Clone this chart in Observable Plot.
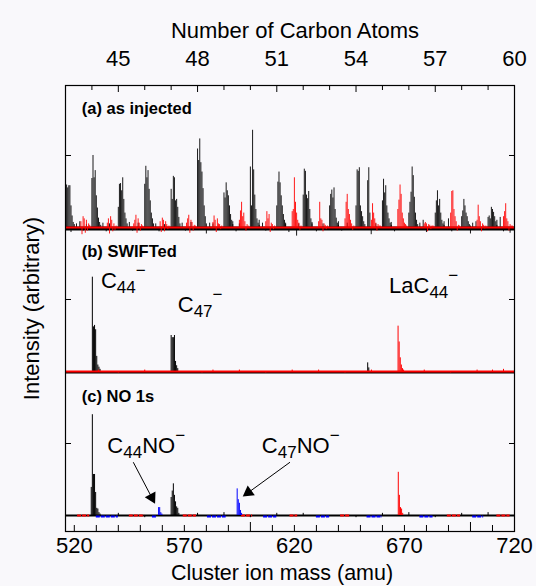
<!DOCTYPE html>
<html><head><meta charset="utf-8">
<script src="https://cdn.jsdelivr.net/npm/d3@7"></script>
<script src="https://cdn.jsdelivr.net/npm/@observablehq/plot@0.6"></script>
<style>
html,body{margin:0;padding:0;background:#f9f8fb;}
</style></head><body><div id="chart"></div>
<script>
// ================= DATA =================
// isotope-line offsets (amu) inside each cluster
const isoOffsets = [0, 0.5, 1, 1.5, 2, 2.5, 3, 3.5, 4];

// (a) as injected — C_n^- clusters (black)
const clusterMassA = [516,528,540,552,564,576,588,600,612,624,636,648,660,672,684,696,708];
const clusterHeightsA = [
  [0.28,0.59,0.55,0.58,0.58,0.30,0.16,0.07,0.04],
  [0.68,1.00,0.69,0.79,0.44,0.27,0.13,0.07,0.03],
  [0.28,0.60,0.61,0.51,0.69,0.39,0.20,0.12,0.05],
  [0.60,0.85,0.69,0.79,0.53,0.37,0.20,0.12,0.05],
  [0.53,0.39,0.71,0.69,0.37,0.39,0.28,0.14,0.05],
  [1.09,0.93,1.23,0.90,0.77,0.54,0.30,0.15,0.05],
  [0.48,0.41,0.62,0.51,0.44,0.30,0.18,0.10,0.04],
  [0.84,0.30,1.35,0.80,0.45,0.25,0.12,0.06,0.03],
  [0.30,0.63,0.77,0.62,0.44,0.30,0.18,0.10,0.04],
  [0.45,0.81,0.78,0.45,0.40,0.50,0.25,0.12,0.05],
  [0.30,0.46,0.52,0.41,0.55,0.25,0.13,0.06,0.03],
  [0.30,0.80,0.78,0.83,0.30,0.22,0.15,0.08,0.04],
  [0.37,0.67,0.48,0.58,0.30,0.20,0.12,0.06,0.03],
  [0.20,0.35,0.49,0.84,0.72,0.42,0.20,0.10,0.04],
  [0.20,0.37,0.51,0.30,0.39,0.20,0.10,0.05,0.03],
  [0.15,0.23,0.39,0.30,0.20,0.15,0.08,0.04,0.02],
  [0.14,0.16,0.12,0.28,0.25,0.21,0.15,0.08,0.03]
];
// (a) extra black lines and baseline noise [mass, intensity]
const blackNoiseA = [
  [518.5,-0.07],[521,0.05],[522.5,0.08],[524,-0.05],[525.5,0.04],[533,0.06],[534.5,-0.06],[536,0.05],
  [545,0.07],[546.5,-0.05],[549,0.06],[557,0.05],[558.5,-0.06],[561,0.04],[569,0.06],[570.5,-0.05],
  [573,0.07],[580,-0.09],[581.5,0.06],[583,0.05],[592,0.08],[593.5,-0.06],[595,0.05],[604,0.10],
  [605.5,0.06],[607,-0.05],[616,0.06],[617.5,-0.07],[621,-0.12],[622,0.05],[628,0.07],[630,-0.06],
  [633,0.05],[640,0.08],[641.5,-0.05],[644,0.06],[653.3,0.65],[653.8,0.83],[654.3,0.20],[654.9,-0.10],
  [657,0.05],[664,0.07],[665.5,-0.06],[677,0.06],[678.5,0.10],[680,-0.07],[688,0.08],[690,0.12],
  [691.5,-0.06],[700,-0.09],[701,0.06],[702.5,0.08],[712,0.10],[713.5,0.14],[715,-0.06],[718,-0.08]
];
// (a) LaC_n^- clusters (red)
const laMassA = [523,535,547,559,571,583,595,607,619,631,643,655,667,679,691,703,715];
const laHeightsA = [
  [0.08,-0.10,0.15,0.12,-0.08,0.10,-0.05,0.05,0.03],
  [0.06,0.12,-0.09,0.15,0.10,-0.06,0.05,-0.04,0.02],
  [0.05,0.10,0.17,-0.08,0.12,0.06,-0.05,0.04,0.02],
  [0.08,-0.07,0.13,0.10,-0.06,0.08,0.04,-0.03,0.02],
  [0.06,0.12,0.17,-0.08,0.10,0.07,-0.05,0.03,0.02],
  [0.07,0.16,0.10,-0.07,0.12,0.05,0.04,-0.03,0.02],
  [0.10,0.23,0.35,0.15,0.20,0.08,-0.05,0.04,0.02],
  [0.08,0.22,0.12,0.18,-0.07,0.06,0.04,-0.03,0.02],
  [0.22,0.25,0.69,0.35,0.20,0.10,0.06,-0.04,0.02],
  [0.08,0.35,0.12,0.10,-0.06,0.05,0.03,-0.03,0.02],
  [0.12,0.35,0.46,0.25,0.18,0.10,0.05,-0.04,0.02],
  [0.10,0.33,0.20,0.12,0.06,-0.05,0.04,0.02,0.02],
  [0.25,0.38,0.59,0.46,0.20,0.12,0.06,0.04,0.02],
  [0.05,0.07,0.05,-0.06,0.04,0.03,-0.03,0.02,0.02],
  [0.20,0.50,0.51,0.25,0.15,0.08,-0.05,0.03,0.02],
  [0.10,0.31,0.15,0.08,-0.06,0.05,0.03,-0.02,0.02],
  [0.15,0.22,0.33,0.12,0.08,-0.05,0.04,0.02,0.02]
];

// (b) SWIFTed
const blackMassB = [528.2,528.7,529.2,529.7,530.2,530.7,531.2,531.7, 564.0,564.5,565.0,565.5,566.0,566.5,567.0, 653.3,653.8];
const blackIntB  = [1.31,0.62,0.64,0.58,0.21,0.09,0.06,0.03, 0.50,0.47,0.47,0.50,0.14,0.08,0.04, 0.12,0.05];
const redMassB = [667.1,667.6,668.1,668.6,669.1,669.6];
const redIntB  = [0.63,0.41,0.19,0.09,0.04,0.02];
const redNoiseB = [[531,0.02],[540,-0.02],[552,0.02],[578,-0.02],[583,0.02],[595,0.02],[607,-0.02],[619,0.02],
  [631,0.02],[643,-0.02],[655,0.02],[679,0.02],[691,-0.02],[703,0.02],[710,0.02],[715,0.03]];

// (c) NO 1s
const blackMassC = [527.7,528.2,528.7,529.2,529.7,530.2,530.7,531.2,531.7, 564.0,564.5,565.0,565.5,566.0,566.5,567.0,567.5];
const blackIntC  = [0.39,1.40,0.57,0.57,0.32,0.10,0.09,0.04,0.02, 0.25,0.34,0.44,0.28,0.19,0.12,0.10,0.03];
const blueMassC = [558.3,558.8,559.3,559.8, 594.0,594.5,595.0,595.5,596.0];
const blueIntC  = [0.11,0.11,0.04,0.02, 0.37,0.22,0.17,0.07,0.03];
const redMassC = [667.2,667.7,668.2,668.7,669.2];
const redIntC  = [0.60,0.28,0.11,0.09,0.03];
const blackNoiseC = [[540,0.03],[552,-0.03],[576,0.03],[588,0.04],[600,-0.03],[612,0.03],[624,0.03],
  [648,-0.03],[660,0.03],[672,0.04],[684,-0.03],[696,0.03],[708,0.04]];
const redSegC  = [[521.5,527],[545,552],[569.5,575.5],[596,601],[618,621.5],[641,645.5],[689.5,695.5],[712,718]];
const blueSegC = [[530,540],[555.5,557.5],[580.5,589],[606,612],[630,636],[653,660],[677,683],[701,706]];

// text
const panelLabels = ["(a) as injected", "(b) SWIFTed", "(c) NO 1s"];
const bottomTickLabels = [520,570,620,670,720];
const bottomMinorTicks = [520,530,540,550,560,570,580,590,610,620,630,640,650,660,670,680,690,710];
const bottomMajorTicks = [600,700];
const topTickLabels = [45,48,51,54,57,60];
const topMinorCarbons = [44,46,47,49,50,52,53,55,56,58,59];
const ionLabelParts = [
  [["C",""],["44","sub"],["\u2212","sup"]],
  [["C",""],["47","sub"],["\u2212","sup"]],
  [["La",""],["C",""],["44","sub"],["\u2212","sup"]],
  [["C",""],["44","sub"],["NO",""],["\u2212","sup"]],
  [["C",""],["47","sub"],["NO",""],["\u2212","sup"]]
];

// ================= LAYOUT =================
const BASE = {a: 4, b: 2, c: 0};   // vertical offset of each panel (y units)
const panelLabelPos = [[523.4, 5.65], [523.4, 3.66], [523.4, 1.65]];
const ionLabelPos = [[532.1, 3.26], [567.0, 2.92], [663.0, 3.19], [535.0, 0.97], [605.2, 0.97]];
const arrows = [
  {x1: 546.8, y1: 0.74, x2: 555.2, y2: 0.25, rot: 152},
  {x1: 618.0, y1: 0.74, x2: 599.1, y2: 0.32, rot: 234}
];

// ================= BUILD =================
const rowsFromClusters = (masses, heights, base) =>
  masses.flatMap((m, i) => isoOffsets.map((o, j) => ({mass: m + o, v: heights[i][j], base})));
const rowsFromPairs = (masses, ints, base) => masses.map((m, i) => ({mass: m, v: ints[i], base}));
const rowsFromNoise = (list, base) => list.map(([m, v]) => ({mass: m, v, base}));

const aBlack = rowsFromClusters(clusterMassA, clusterHeightsA, BASE.a);
const aBlackNoise = rowsFromNoise(blackNoiseA, BASE.a);
const aRed = rowsFromClusters(laMassA, laHeightsA, BASE.a);
const bBlack = rowsFromPairs(blackMassB, blackIntB, BASE.b);
const bRed = rowsFromPairs(redMassB, redIntB, BASE.b);
const bRedNoise = rowsFromNoise(redNoiseB, BASE.b);
const cBlack = rowsFromPairs(blackMassC, blackIntC, BASE.c);
const cBlackNoise = rowsFromNoise(blackNoiseC, BASE.c);
const cBlue = rowsFromPairs(blueMassC, blueIntC, BASE.c);
const cRed = rowsFromPairs(redMassC, redIntC, BASE.c);

const spikes = (rows, color, w = 1) => Plot.ruleX(rows, {
  x: "mass", y1: d => d.base, y2: d => d.base + d.v, stroke: color, strokeWidth: w, clip: true
});

const panelLabelRows = panelLabels.map((t, i) => ({t, x: panelLabelPos[i][0], y: panelLabelPos[i][1]}));
const ionRows = ionLabelParts.map((p, i) => ({parts: p, x: ionLabelPos[i][0], y: ionLabelPos[i][1]}));

const FONT = "'Liberation Sans', Arial, Helvetica, sans-serif";

const chart = Plot.plot({
  width: 536, height: 586,
  marginLeft: 65, marginRight: 22, marginTop: 85, marginBottom: 55,
  x: {domain: [516, 720]},
  y: {domain: [-0.222, 5.972]},
  style: {background: "#f9f8fb", fontFamily: FONT, color: "black", overflow: "visible"},
  marks: [
    // ---- panel (a)
    Plot.ruleY([BASE.a], {stroke: "black", strokeWidth: 4, dy: 1}),
    spikes(aBlackNoise, "black", 0.9),
    spikes(aBlack, "black", 0.9),
    Plot.ruleY([BASE.a], {stroke: "#ff0000", strokeWidth: 2}),
    spikes(aRed, "#ff0000", 0.9),
    // ---- panel (b)
    Plot.ruleY([BASE.b], {stroke: "black", strokeWidth: 2, dy: 1}),
    spikes(bBlack, "black"),
    Plot.ruleY([BASE.b], {stroke: "#ff0000", strokeWidth: 2}),
    spikes(bRedNoise, "#ff0000"),
    spikes(bRed, "#ff0000"),
    // ---- panel (c)
    Plot.ruleY([BASE.c], {stroke: "black", strokeWidth: 2}),
    Plot.ruleY(redSegC, {y: () => BASE.c, x1: d => d[0], x2: d => d[1], stroke: "#ff0000", strokeWidth: 2, strokeDasharray: "4,1", clip: true}),
    Plot.ruleY(blueSegC, {y: () => BASE.c, x1: d => d[0], x2: d => d[1], stroke: "#0000ff", strokeWidth: 2, strokeDasharray: "4,1", dy: 1, clip: true}),
    spikes(cBlackNoise, "black"),
    spikes(cBlack, "black"),
    spikes(cBlue, "#0000ff"),
    spikes(cRed, "#ff0000"),
    // ---- annotations
    Plot.text(panelLabelRows, {x: "x", y: "y", text: "t", textAnchor: "start", fontSize: 16.5, fontWeight: "bold", fill: "black"}),
    Plot.text(ionRows, {x: "x", y: "y", text: d => d.parts.map(p => p[0]).join(""), textAnchor: "start", fontSize: 22, fill: "black", className: "ion-label"}),
    Plot.link(arrows, {x1: "x1", y1: "y1", x2: "x2", y2: "y2", stroke: "black", strokeWidth: 1}),
    Plot.dot(arrows, {x: "x2", y: "y2", symbol: "triangle", r: 4.5, fill: "black", stroke: "none", rotate: "rot"}),
    // ---- axis titles
    Plot.text(["Number of Carbon Atoms"], {text: d => d, frameAnchor: "top", lineAnchor: "middle", textAnchor: "middle", dy: -55, dx: 5, fontSize: 22}),
    Plot.text(["Cluster ion mass (amu)"], {text: d => d, frameAnchor: "bottom", lineAnchor: "bottom", textAnchor: "middle", dy: 48, dx: -8, fontSize: 21.5}),
    Plot.text(["Intensity (arbitrary)"], {text: d => d, frameAnchor: "left", lineAnchor: "middle", textAnchor: "middle", rotate: -90, dx: -34, dy: 0, fontSize: 22}),
    // ---- axes
    Plot.axisX({anchor: "bottom", ticks: bottomTickLabels, tickSize: 0, tickPadding: 6, fontSize: 22, label: null}),
    Plot.axisX({anchor: "bottom", ticks: bottomMinorTicks, tickSize: 6, dy: -6, fill: "none", label: null}),
    Plot.axisX({anchor: "bottom", ticks: bottomMajorTicks, tickSize: 9, dy: -9, fill: "none", label: null}),
    Plot.axisX({anchor: "top", ticks: topTickLabels.map(c => c * 12), tickFormat: m => String(m / 12), tickSize: 0, tickPadding: 20, fontSize: 22, label: null}),
    Plot.axisX({anchor: "top", ticks: topTickLabels.map(c => c * 12), tickSize: 6, dy: 6, fill: "none", label: null}),
    Plot.axisX({anchor: "top", ticks: topMinorCarbons.map(c => c * 12), tickSize: 4, dy: 4, fill: "none", label: null}),
    Plot.axisY({anchor: "left", ticks: [1, 3, 5], tickSize: 6, dx: 6, fill: "none", label: null}),
    Plot.axisY({anchor: "right", ticks: [1, 3, 5], tickSize: 6, dx: -6, fill: "none", label: null}),
    Plot.frame({stroke: "black", strokeWidth: 1.2})
  ]
});

// rich text (subscripts / superscripts) for ion labels
const offs = {"": 0, sub: 5, sup: -12};
d3.select(chart).selectAll("g.ion-label text").each(function(_, i) {
  const parts = ionRows[i].parts;
  const t = d3.select(this);
  t.text(null);
  let state = "";
  for (const [s, kind] of parts) {
    const ts = t.append("tspan").text(s);
    const dy = offs[kind] - offs[state];
    if (dy) ts.attr("dy", dy);
    if (kind) ts.attr("font-size", 17);
    state = kind;
  }
});

document.getElementById("chart").appendChild(chart);
</script>
</body></html>
